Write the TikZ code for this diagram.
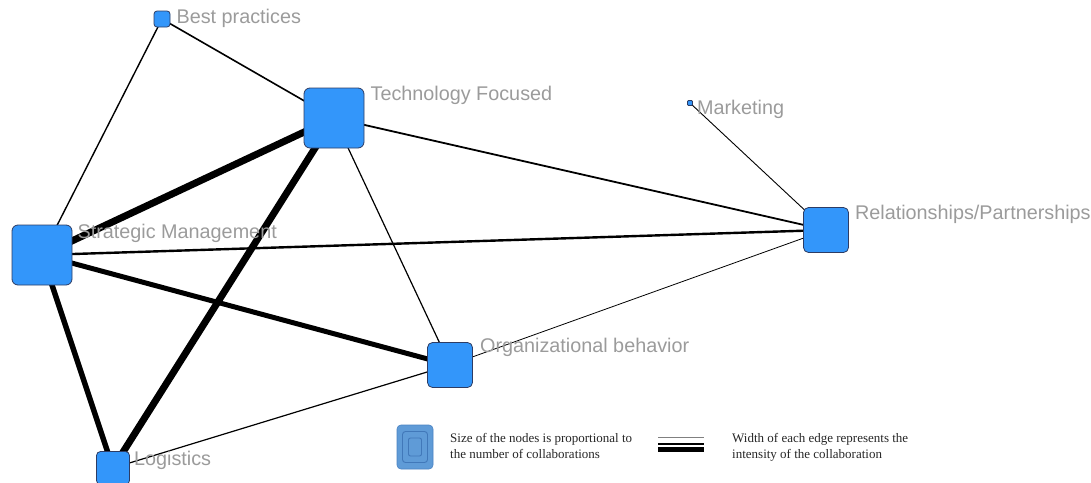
\documentclass[tikz,border=0pt]{standalone}
\usepackage{fontspec}
\setmainfont{Liberation Serif}
\newfontfamily\labfont{Liberation Sans}
\usetikzlibrary{backgrounds}
\definecolor{nodeblue}{RGB}{51,150,250}
\definecolor{nodeedge}{RGB}{45,60,100}
\definecolor{labgray}{RGB}{155,155,155}
\definecolor{legblue}{RGB}{95,155,215}
\definecolor{legdark}{RGB}{65,120,185}
\tikzset{
  topic/.style={draw=nodeedge, line width=0.8pt, fill=nodeblue, rounded corners=#1,
    inner sep=0pt, minimum size=0pt},
  lab/.style={anchor=base west, text=labgray, font=\labfont\fontsize{19.8}{23}\selectfont, inner sep=0pt},
  tie/.style={draw=black, line width=#1},
  legtext/.style={anchor=base west, font=\fontsize{13}{16}\selectfont, align=left, inner sep=0pt,
    text=black!85}
}
\begin{document}
\begin{tikzpicture}[x=1pt, y=-1pt]
\useasboundingbox (0,0) rectangle (1091,482);

% topic nodes, side length ~ number of collaborations
\node[topic=3pt, minimum size=16pt] (best)  at (162,19)  {};
\node[topic=6pt, minimum size=60pt] (tech)  at (334,118) {};
\node[topic=1pt, minimum size=5pt]  (mkt)   at (690,103) {};
\node[topic=5pt, minimum size=45pt] (rel)   at (826,230) {};
\node[topic=6pt, minimum size=60pt] (strat) at (42,255)  {};
\node[topic=5pt, minimum size=45pt] (org)   at (450,365) {};
\node[topic=4pt, minimum size=33pt] (logi)  at (113,468) {};

% topic labels
\node[lab] (bestL)  at ([shift={(6,13)}]best.north east)  {Best practices};
\node[lab] (techL)  at ([shift={(6,13)}]tech.north east)  {Technology Focused};
\node[lab] (mktL)   at ([shift={(4,14)}]mkt.north east)   {Marketing};
\node[lab] (relL)   at ([shift={(6,12)}]rel.north east)   {Relationships/Partnerships};
\node[lab] (stratL) at ([shift={(5,14)}]strat.north east) {Strategic Management};
\node[lab] (orgL)   at ([shift={(7,10)}]org.north east)   {Organizational behavior};
\node[lab] (logiL)  at ([shift={(4,14)}]logi.north east)  {Logistics};

% collaboration ties, width ~ intensity
\begin{scope}[on background layer]
\draw[tie=1.6pt] (best.center) -- (tech.center);
\draw[tie=1.4pt] (best.center) -- (strat.center);
\draw[tie=7pt]   (tech.center) -- (strat.center);
\draw[tie=7pt]   (tech.center) -- (logi.center);
\draw[tie=1.2pt] (tech.center) -- (org.center);
\draw[tie=1.8pt] (tech.center) -- (rel.center);
\draw[tie=0.9pt] (mkt.center)  -- (rel.center);
\draw[tie=2.4pt] (strat.center) -- (rel.center);
\draw[tie=5pt]   (strat.center) -- (org.center);
\draw[tie=5.5pt] (strat.center) -- (logi.center);
\draw[tie=0.8pt] (org.center)  -- (rel.center);
\draw[tie=1.2pt] (logi.center) -- (org.center);
\end{scope}

% legend: node size
\node[fill=legblue, draw=legdark!70!legblue, line width=0.6pt, rounded corners=4pt,
      minimum width=36pt, minimum height=44pt, inner sep=0pt] (legnode) at (415,447) {};
\node[draw=legdark, line width=0.9pt, rounded corners=3pt,
      minimum width=25pt, minimum height=31pt, inner sep=0pt] (legmid) at (legnode.center) {};
\node[draw=legdark, line width=0.9pt, rounded corners=2pt,
      minimum width=13pt, minimum height=18pt, inner sep=0pt] (legin) at (legnode.center) {};
% base anchor of a two-line node sits on its last line
\node[legtext] (legsize) at (450,458) {Size of the nodes is proportional to\\the number of collaborations};

% legend: edge width
\coordinate (lw1) at (658,437.5);
\coordinate (lw2) at (704,437.5);
\coordinate (lw3) at (658,444);
\coordinate (lw4) at (704,444);
\coordinate (lw5) at (658,449);
\coordinate (lw6) at (704,449);
\draw[tie=0.9pt, draw=gray] (lw1) -- (lw2);
\draw[tie=1.5pt] (lw3) -- (lw4);
\draw[tie=5pt] (lw5) -- (lw6);
\node[legtext] (legwidth) at (732,458) {Width of each edge represents the\\intensity of the collaboration};
\end{tikzpicture}
\end{document}
